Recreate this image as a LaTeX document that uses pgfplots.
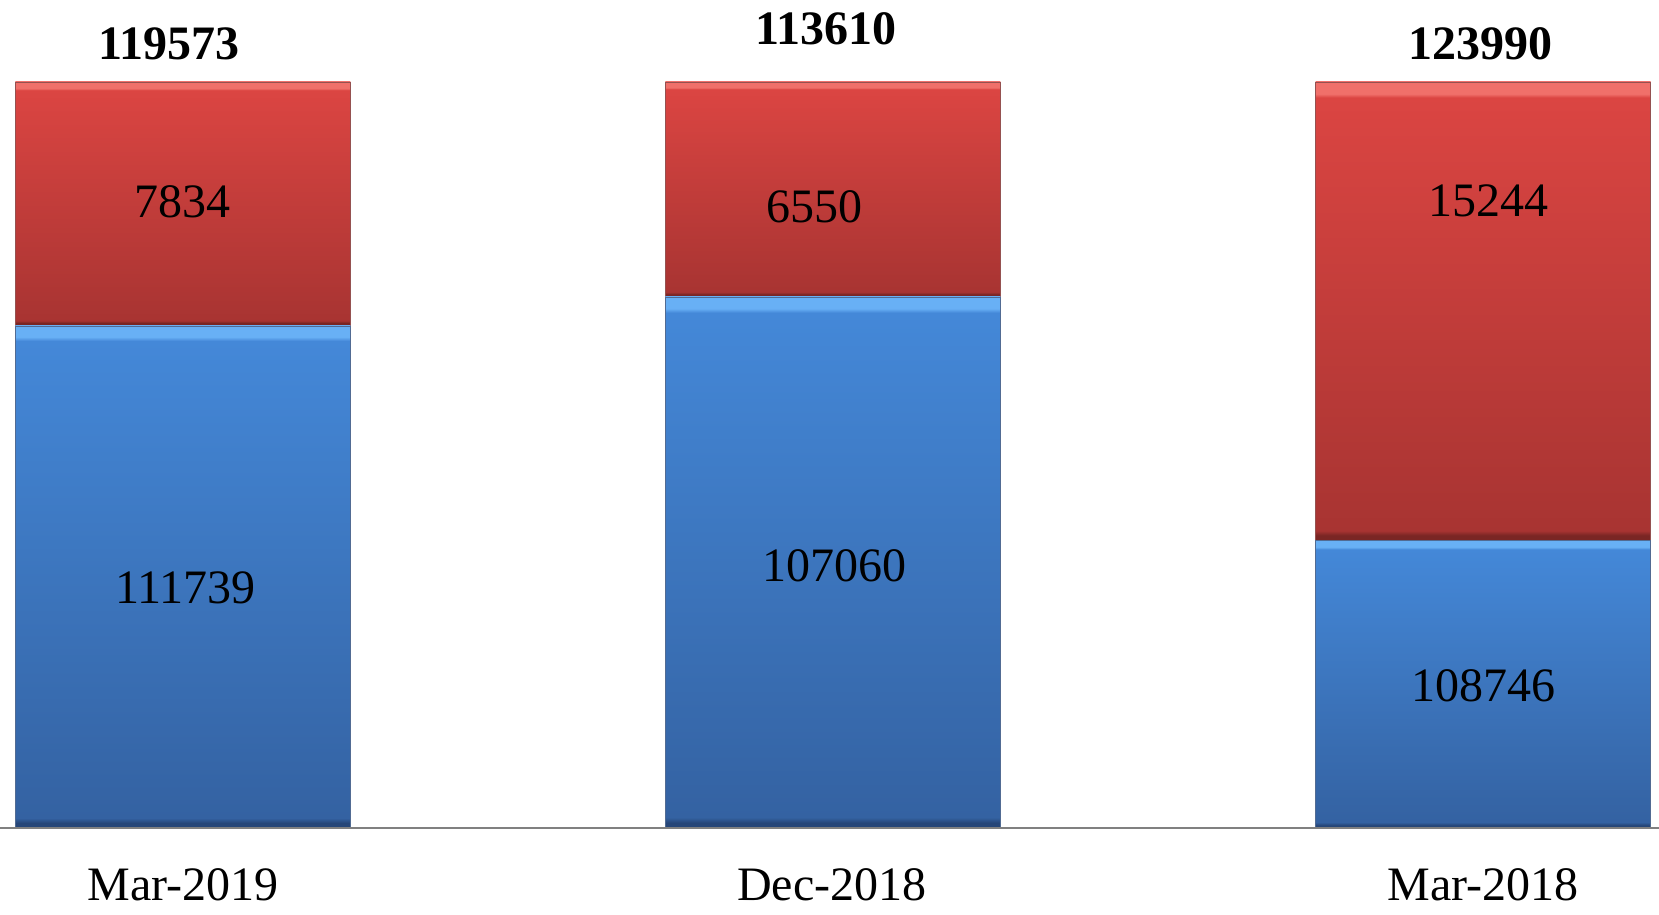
\documentclass[border=0pt]{standalone}
\usepackage{fontspec}
\setmainfont{Liberation Serif}
\usepackage{pgfplots}
\pgfplotsset{compat=1.18}
\definecolor{redtop}{RGB}{219,69,66}
\definecolor{redbot}{RGB}{168,52,50}
\definecolor{redlight}{RGB}{240,112,106}
\definecolor{reddark}{RGB}{122,38,36}
\definecolor{bluetop}{RGB}{68,136,216}
\definecolor{bluebot}{RGB}{52,98,162}
\definecolor{bluelight}{RGB}{104,176,245}
\definecolor{bluedark}{RGB}{38,70,120}
\pgfdeclareverticalshading{redbar}{100bp}{color(0bp)=(reddark); color(25bp)=(reddark); color(25.6bp)=(reddark); color(26.1bp)=(redbot); color(73.3bp)=(redtop); color(73.7bp)=(redlight); color(75bp)=(redlight); color(100bp)=(redlight)}
\pgfdeclareverticalshading{bluebar}{100bp}{color(0bp)=(bluedark); color(25bp)=(bluedark); color(25.5bp)=(bluedark); color(26bp)=(bluebot); color(73.5bp)=(bluetop); color(73.9bp)=(bluelight); color(75bp)=(bluelight); color(100bp)=(bluelight)}
\newcommand{\lblfont}{\fontsize{24}{28}\selectfont}
\tikzset{lbl/.style={font=\lblfont, anchor=base, inner sep=0pt}}
\pgfplotsset{onebar/.style={
  scale only axis, width=829.5pt, height=457.5pt,
  xmin=-0.2815, xmax=2.2708, ymin=-11.66, ymax=110.99,
  hide axis, clip=false, at={(0,0)}, anchor=south west,
  ybar stacked, bar width=167.5pt}}
% one axis per bar, so that each segment is shaded on its own
% #1 = x position, #2 = blue share, #3 = red share (of bar height)
\newcommand{\onebar}[3]{%
\begin{axis}[onebar]
\addplot[draw=bluedark!80, line width=0.3pt, shading=bluebar] coordinates {(#1,#2)};
\addplot[draw=reddark!80, line width=0.3pt, shading=redbar] coordinates {(#1,#3)};
\end{axis}}
\begin{document}
\begin{tikzpicture}
\onebar{0}{67.3}{32.7}
\onebar{1}{71.2}{28.8}
\begin{axis}[onebar]
\addplot[draw=bluedark!80, line width=0.3pt, shading=bluebar] coordinates {(2,38.5)};
\addplot[draw=reddark!80, line width=0.3pt, shading=redbar] coordinates {(2,61.5)};
\coordinate (a0) at (axis cs:-0.2815,0);
\coordinate (a1) at (axis cs:2.2708,0);
\coordinate (t1) at (axis cs:-0.0215,102.95);
\coordinate (t2) at (axis cs:0.989,104.96);
\coordinate (t3) at (axis cs:1.9969,102.95);
\coordinate (r1) at (axis cs:0,81.77);
\coordinate (r2) at (axis cs:0.971,81.1);
\coordinate (r3) at (axis cs:2.0077,82.0);
\coordinate (b1) at (axis cs:0.004,30.1);
\coordinate (b2) at (axis cs:1.0017,33.1);
\coordinate (b3) at (axis cs:2.0015,16.9);
\coordinate (c1) at (axis cs:0,-9.65);
\coordinate (c2) at (axis cs:0.998,-9.65);
\coordinate (c3) at (axis cs:2.0,-9.65);
\end{axis}
\draw[gray, line width=1pt] (a0) -- (a1);
\node[lbl] at (t1) {\bfseries 119573};
\node[lbl] at (t2) {\bfseries 113610};
\node[lbl] at (t3) {\bfseries 123990};
\node[lbl] at (r1) {7834};
\node[lbl] at (r2) {6550};
\node[lbl] at (r3) {15244};
\node[lbl] at (b1) {111739};
\node[lbl] at (b2) {107060};
\node[lbl] at (b3) {108746};
\node[lbl] at (c1) {Mar-2019};
\node[lbl] at (c2) {Dec-2018};
\node[lbl] at (c3) {Mar-2018};
\pgfresetboundingbox
\path (current axis.south west) rectangle (current axis.north east);
\end{tikzpicture}
\end{document}
